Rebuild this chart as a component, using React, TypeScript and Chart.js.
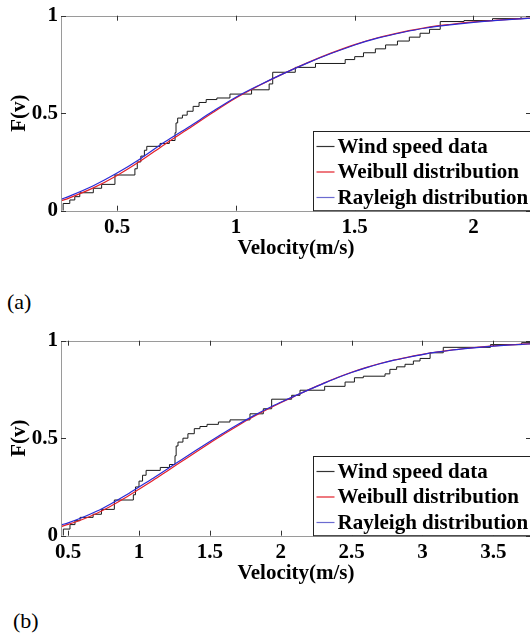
import React, { useEffect, useRef } from "react";
import { Chart, registerables } from "chart.js";
Chart.register(...registerables);

const FONT = "'Liberation Serif', 'Times New Roman', serif";

// ---------- Panel (a) ----------
const stepXA = [0.273, 0.273, 0.301, 0.322, 0.343, 0.4, 0.435, 0.491, 0.575, 0.585, 0.6, 0.615, 0.625, 0.681, 0.72, 0.744, 0.748, 0.755, 0.775, 0.795, 0.82, 0.845, 0.875, 0.92, 0.975, 1.066, 1.14, 1.155, 1.25, 1.335, 1.46, 1.5, 1.537, 1.587, 1.63, 1.68, 1.73, 1.775, 1.815, 1.86, 1.96, 2.08, 2.2, 2.242];
const stepYA = [0, 0.037, 0.055, 0.072, 0.092, 0.115, 0.135, 0.183, 0.215, 0.25, 0.28, 0.31, 0.33, 0.345, 0.36, 0.4, 0.45, 0.475, 0.49, 0.51, 0.535, 0.555, 0.57, 0.578, 0.598, 0.62, 0.65, 0.71, 0.735, 0.755, 0.775, 0.79, 0.81, 0.83, 0.85, 0.87, 0.89, 0.91, 0.93, 0.97, 0.975, 0.985, 0.995, 0.995];
const curveXA = [0.264, 0.3, 0.4, 0.5, 0.6, 0.7, 0.8, 0.9, 1.0, 1.1, 1.2, 1.3, 1.4, 1.5, 1.6, 1.7, 1.8, 1.9, 2.0, 2.1, 2.2, 2.242];
const weibullYA = [0.05, 0.066, 0.117, 0.181, 0.256, 0.34, 0.42, 0.501, 0.578, 0.643, 0.703, 0.758, 0.808, 0.852, 0.888, 0.916, 0.939, 0.955, 0.968, 0.977, 0.985, 0.988];
const rayleighYA = [0.058, 0.075, 0.128, 0.193, 0.268, 0.352, 0.428, 0.507, 0.582, 0.645, 0.703, 0.757, 0.806, 0.85, 0.886, 0.914, 0.937, 0.953, 0.966, 0.976, 0.984, 0.987];
const xTicksA = [0.5, 1, 1.5, 2];
const xMinA = 0.264;
const xMaxA = 2.242;

// ---------- Panel (b) ----------
const stepXB = [0.466, 0.466, 0.513, 0.548, 0.584, 0.676, 0.735, 0.826, 0.96, 0.975, 1.0, 1.025, 1.05, 1.15, 1.215, 1.254, 1.262, 1.275, 1.31, 1.345, 1.39, 1.43, 1.48, 1.56, 1.642, 1.783, 1.877, 1.936, 2.077, 2.136, 2.31, 2.454, 2.52, 2.583, 2.736, 2.77, 2.818, 2.877, 2.936, 2.983, 3.054, 3.147, 3.48, 3.7, 3.766];
const stepYB = [0, 0.034, 0.057, 0.077, 0.094, 0.11, 0.135, 0.183, 0.21, 0.25, 0.28, 0.31, 0.335, 0.35, 0.365, 0.41, 0.46, 0.48, 0.5, 0.523, 0.549, 0.56, 0.571, 0.583, 0.594, 0.625, 0.651, 0.7, 0.72, 0.746, 0.766, 0.788, 0.81, 0.818, 0.83, 0.853, 0.866, 0.879, 0.896, 0.909, 0.938, 0.966, 0.98, 0.99, 0.99];
const curveXB = [0.4495, 0.5, 0.6, 0.7, 0.8, 0.9, 1.0, 1.1, 1.2, 1.3, 1.4, 1.5, 1.6, 1.7, 1.8, 1.9, 2.0, 2.1, 2.2, 2.3, 2.4, 2.5, 2.6, 2.7, 2.8, 2.9, 3.0, 3.1, 3.2, 3.3, 3.4, 3.5, 3.6, 3.7, 3.766];
const weibullYB = [0.047, 0.058, 0.083, 0.114, 0.151, 0.193, 0.238, 0.284, 0.332, 0.38, 0.428, 0.475, 0.521, 0.565, 0.607, 0.646, 0.682, 0.716, 0.749, 0.781, 0.811, 0.838, 0.862, 0.883, 0.901, 0.916, 0.93, 0.942, 0.952, 0.96, 0.967, 0.973, 0.978, 0.982, 0.985];
const rayleighYB = [0.055, 0.066, 0.093, 0.125, 0.163, 0.205, 0.25, 0.295, 0.342, 0.39, 0.437, 0.483, 0.528, 0.571, 0.612, 0.65, 0.684, 0.717, 0.749, 0.78, 0.81, 0.837, 0.861, 0.882, 0.9, 0.915, 0.929, 0.941, 0.951, 0.959, 0.966, 0.972, 0.977, 0.981, 0.984];
const xTicksB = [0.5, 1, 1.5, 2, 2.5, 3, 3.5];
const xMinB = 0.4495;
const xMaxB = 3.766;

// ---------- shared ----------
const yTicks = [0, 0.5, 1];
const legendLabels = ["Wind speed data", "Weibull distribution", "Rayleigh distribution"];
const seriesColors = ["#1a1a1a", "#e3202a", "#2b2bd6"];
const legendLineColors = ["#333333", "#e3202a", "#6b6bd0"];
const xTitle = "Velocity(m/s)";
const yTitle = "F(v)";
const panelLabels = ["(a)", "(b)"];

const W = 545;
const H = 262;
const AREA_LEFT = 61;
const AREA_RIGHT = 531;
const AREA_TOP = 15.7;
const AREA_BOTTOM = 210.7;

const framePlugin = {
  id: "frameTicksLegend",
  afterDatasetsDraw(chart: any) {
    const { ctx, chartArea } = chart;
    const { left, right, top, bottom } = chartArea;
    const xs = chart.scales.x;
    const ys = chart.scales.y;
    ctx.save();
    // frame
    ctx.strokeStyle = "#9a9a9a";
    ctx.lineWidth = 1;
    ctx.strokeRect(Math.round(left) + 0.5, Math.round(top) + 0.5, Math.round(right - left), Math.round(bottom - top));
    // inward ticks
    ctx.strokeStyle = "#333";
    const tl = 5;
    xs.ticks.forEach((t: any) => {
      const px = Math.round(xs.getPixelForValue(t.value)) + 0.5;
      ctx.beginPath();
      ctx.moveTo(px, bottom);
      ctx.lineTo(px, bottom - tl);
      ctx.moveTo(px, top);
      ctx.lineTo(px, top + tl);
      ctx.stroke();
    });
    ys.ticks.forEach((t: any) => {
      const py = Math.round(ys.getPixelForValue(t.value)) + 0.5;
      ctx.beginPath();
      ctx.moveTo(left, py);
      ctx.lineTo(left + tl, py);
      ctx.moveTo(right, py);
      ctx.lineTo(right - tl, py);
      ctx.stroke();
    });
    // legend
    const bx = Math.round(left + 251.7) + 0.5;
    const by = Math.round(bottom - 80) + 0.5;
    const bw = right - bx;
    const bh = bottom - by;
    ctx.fillStyle = "#fff";
    ctx.fillRect(bx, by, bw, bh);
    ctx.strokeStyle = "#222";
    ctx.strokeRect(bx, by, bw, bh);
    ctx.font = `bold 21px ${FONT}`;
    ctx.textBaseline = "middle";
    ctx.textAlign = "left";
    chart.data.datasets.forEach((ds: any, i: number) => {
      const ry = by + 15 + i * 25.5;
      ctx.strokeStyle = legendLineColors[i];
      ctx.lineWidth = 1.2;
      ctx.beginPath();
      ctx.moveTo(bx + 3, ry);
      ctx.lineTo(bx + 21, ry);
      ctx.stroke();
      ctx.fillStyle = "#000";
      ctx.fillText(ds.label, bx + 24, ry + 1);
    });
    ctx.restore();
  },
};

function pts(xs: number[], ys: number[]) {
  return xs.map((x, i) => ({ x, y: ys[i] }));
}

function buildConfig(p: any): any {
  const tickFont = { family: FONT, size: 21, weight: "bold" as const };
  return {
    type: "scatter",
    data: {
      datasets: [
        {
          label: legendLabels[0],
          data: pts(p.stepX, p.stepY),
          showLine: true,
          stepped: "before",
          borderColor: seriesColors[0],
          borderWidth: 1,
          pointRadius: 0,
          order: 3,
        },
        {
          label: legendLabels[1],
          data: pts(p.curveX, p.weibullY),
          showLine: true,
          cubicInterpolationMode: "monotone",
          borderColor: seriesColors[1],
          borderWidth: 1.2,
          pointRadius: 0,
          order: 2,
        },
        {
          label: legendLabels[2],
          data: pts(p.curveX, p.rayleighY),
          showLine: true,
          cubicInterpolationMode: "monotone",
          borderColor: seriesColors[2],
          borderWidth: 1.2,
          pointRadius: 0,
          order: 1,
        },
      ],
    },
    options: {
      animation: false,
      responsive: false,
      devicePixelRatio: 1,
      events: [],
      layout: { padding: { left: 0, right: W - AREA_RIGHT, top: AREA_TOP, bottom: 0 } },
      plugins: { legend: { display: false }, tooltip: { enabled: false } },
      scales: {
        x: {
          type: "linear",
          min: p.xMin,
          max: p.xMax,
          afterBuildTicks: (s: any) => {
            s.ticks = p.xTicks.map((v: number) => ({ value: v }));
          },
          afterFit: (s: any) => {
            s.height = H - AREA_BOTTOM;
          },
          grid: { display: false, drawTicks: false },
          border: { display: false },
          ticks: {
            font: tickFont,
            color: "#000",
            padding: 4,
            maxRotation: 0,
            autoSkip: false,
            callback: (v: any) => String(v),
          },
          title: {
            display: true,
            text: xTitle,
            font: tickFont,
            color: "#000",
            padding: { top: 0, bottom: 1 },
          },
        },
        y: {
          type: "linear",
          min: 0,
          max: 1,
          afterBuildTicks: (s: any) => {
            s.ticks = yTicks.map((v) => ({ value: v }));
          },
          afterFit: (s: any) => {
            s.width = AREA_LEFT;
          },
          grid: { display: false, drawTicks: false },
          border: { display: false },
          ticks: {
            font: tickFont,
            color: "#000",
            padding: 3,
            autoSkip: false,
            callback: (v: any) => String(v),
          },
          title: {
            display: true,
            text: yTitle,
            font: tickFont,
            color: "#000",
            padding: { top: 7, bottom: 0 },
          },
        },
      },
    },
    plugins: [framePlugin],
  };
}

function Panel({ params, top }: { params: any; top: number }) {
  const ref = useRef<HTMLCanvasElement | null>(null);
  useEffect(() => {
    if (!ref.current) return;
    const chart = new Chart(ref.current, buildConfig(params));
    return () => chart.destroy();
  }, []);
  return (
    <canvas
      ref={ref}
      width={W}
      height={H}
      style={{ position: "absolute", left: 0, top, width: W, height: H }}
    />
  );
}

const panelA = {
  stepX: stepXA, stepY: stepYA, curveX: curveXA, weibullY: weibullYA, rayleighY: rayleighYA,
  xTicks: xTicksA, xMin: xMinA, xMax: xMaxA,
};
const panelB = {
  stepX: stepXB, stepY: stepYB, curveX: curveXB, weibullY: weibullYB, rayleighY: rayleighYB,
  xTicks: xTicksB, xMin: xMinB, xMax: xMaxB,
};

const labelStyle: React.CSSProperties = {
  position: "absolute",
  fontFamily: FONT,
  fontSize: 22,
  lineHeight: 1,
  color: "#000",
  whiteSpace: "nowrap",
};

export default function App() {
  return (
    <div
      style={{
        position: "fixed",
        left: 0,
        top: 0,
        width: 530,
        height: 639,
        overflow: "hidden",
        background: "#fff",
      }}
    >
      <Panel params={panelA} top={0} />
      <div style={{ ...labelStyle, left: 7, top: 291 }}>{panelLabels[0]}</div>
      <Panel params={panelB} top={325} />
      <div style={{ ...labelStyle, left: 13, top: 610 }}>{panelLabels[1]}</div>
    </div>
  );
}
